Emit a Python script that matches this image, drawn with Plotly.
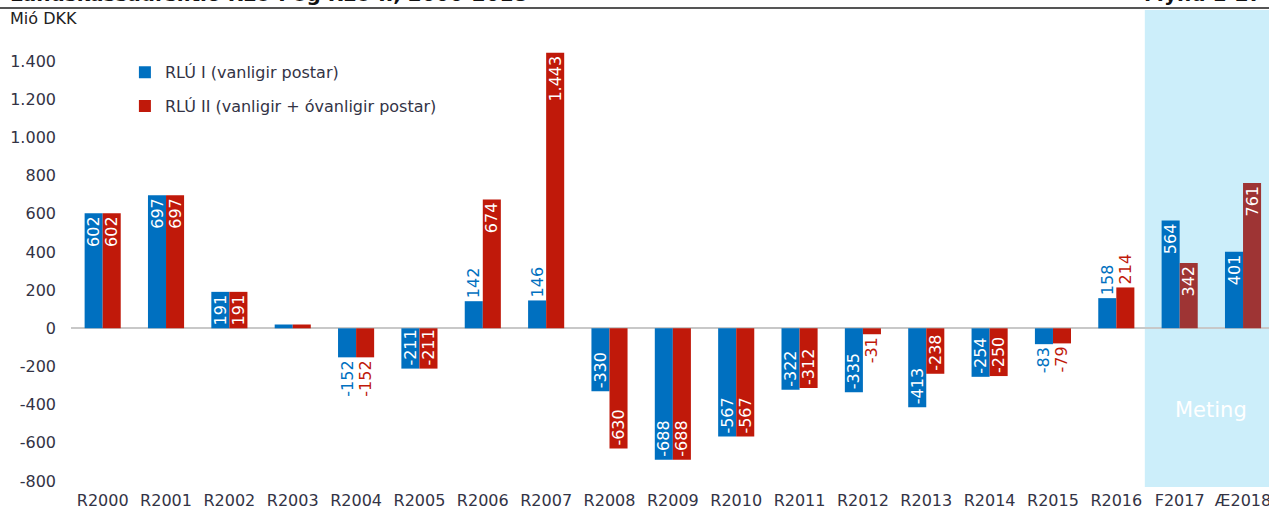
import plotly.graph_objects as go

categories = ["R2000", "R2001", "R2002", "R2003", "R2004", "R2005", "R2006", "R2007", "R2008",
              "R2009", "R2010", "R2011", "R2012", "R2013", "R2014", "R2015", "R2016", "F2017", "Æ2018"]
rlu1 = [602, 697, 191, 20, -152, -211, 142, 146, -330, -688, -567, -322, -335, -413, -254, -83, 158, 564, 401]
rlu2 = [602, 697, 191, 20, -152, -211, 674, 1443, -630, -688, -567, -312, -31, -238, -250, -79, 214, 342, 761]
show_label = [True, True, True, False] + [True] * 15
rlu1_pos = ["inside", "inside", "inside", "none", "outside", "inside", "outside", "outside", "inside",
            "inside", "inside", "inside", "inside", "inside", "inside", "outside", "outside", "inside", "inside"]
rlu2_pos = ["inside", "inside", "inside", "none", "outside", "inside", "inside", "inside", "inside",
            "inside", "inside", "inside", "outside", "inside", "inside", "outside", "outside", "inside", "inside"]
y_tick_vals = [-800, -600, -400, -200, 0, 200, 400, 600, 800, 1000, 1200, 1400]
y_tick_text = ["-800", "-600", "-400", "-200", "0", "200", "400", "600", "800", "1.000", "1.200", "1.400"]
n_forecast = 2

BLUE = "#0070C0"
RED = "#C0190A"
RED_F = "#9E3434"
TXT = "#333345"
FONT = "DejaVu Sans"


def fmt(v):
    s = f"{abs(v):,}".replace(",", ".")
    return ("-" if v < 0 else "") + s


def labels(vals):
    return [fmt(v) if ok else "" for v, ok in zip(vals, show_label)]


n = len(categories)
red_colors = [RED] * (n - n_forecast) + [RED_F] * n_forecast

fig = go.Figure()
fig.add_trace(go.Bar(
    x=categories, y=rlu1, name="RLÚ I (vanligir postar)", legendgroup="a",
    marker=dict(color=BLUE, line=dict(width=0)),
    text=labels(rlu1), textposition=rlu1_pos, textangle=-90,
    insidetextfont=dict(color="white", size=16, family=FONT),
    outsidetextfont=dict(color=BLUE, size=16, family=FONT),
    constraintext="none", cliponaxis=False, hoverinfo="skip",
))
fig.add_trace(go.Bar(
    x=categories, y=rlu2, name="RLÚ II (vanligir + óvanligir postar)", legendgroup="b",
    marker=dict(color=red_colors, line=dict(width=0)),
    text=labels(rlu2), textposition=rlu2_pos, textangle=-90,
    insidetextfont=dict(color="white", size=16, family=FONT),
    outsidetextfont=dict(color=RED, size=16, family=FONT),
    constraintext="none", cliponaxis=False, hoverinfo="skip",
))

fig.update_layout(
    width=1269, height=508,
    margin=dict(l=71, r=0, t=10, b=21),
    paper_bgcolor="white", plot_bgcolor="rgba(0,0,0,0)",
    barmode="group", bargap=0.43, bargroupgap=0,
    font=dict(family=FONT, size=16, color=TXT),
    showlegend=True,
    legend=dict(x=0.045, y=0.905, xanchor="left", yanchor="top",
                font=dict(size=16, color=TXT), tracegroupgap=10,
                bgcolor="rgba(0,0,0,0)", itemwidth=30),
    uniformtext=dict(minsize=16, mode="show"),
    xaxis=dict(range=[-0.5, 18.41], showgrid=False, showline=False, ticks="",
               tickfont=dict(size=16, color=TXT), zeroline=False, automargin=False,
               ticklabelstandoff=2),
    yaxis=dict(range=[-831, 1667], tickvals=y_tick_vals, ticktext=y_tick_text,
               showgrid=False, showline=False, ticks="", zeroline=True,
               zerolinecolor="#C8C8C8", zerolinewidth=1.5, automargin=False,
               tickfont=dict(size=16, color=TXT), ticklabelstandoff=14),
    shapes=[
        dict(type="rect", xref="x", yref="paper", x0=n - n_forecast - 0.55, x1=n + 1,
             y0=0, y1=1, fillcolor="#CCEEFA", line=dict(width=0), layer="below"),
        dict(type="line", xref="paper", yref="paper", x0=-0.06, x1=1.0,
             y0=1.004, y1=1.004, line=dict(color="#555555", width=2)),
    ],
    annotations=[
        dict(text="Mió DKK", xref="paper", yref="paper", x=-0.053, y=1.0, yshift=3, xanchor="left",
             yanchor="top", showarrow=False, font=dict(size=16, color="#222222")),
        dict(text="Meting", xref="x", yref="y", x=n - 1.5, y=-430, showarrow=False,
             font=dict(size=21, color="white")),
        dict(text="<b>Landskassaúrslitið RLÚ I og RLÚ II, 2000-2018</b>", xref="paper", yref="paper",
             x=-0.053, y=1.0, yshift=2, xanchor="left", yanchor="bottom", showarrow=False,
             font=dict(size=20, color="#111111")),
        dict(text="<b>Mynd 1-27</b>", xref="paper", yref="paper",
             x=0.997, y=1.0, yshift=2, xanchor="right", yanchor="bottom", showarrow=False,
             font=dict(size=20, color="#111111")),
    ],
)

fig.write_html("out.html", config={"displayModeBar": False},
               post_script="document.body.style.margin='0';document.body.style.overflow='hidden';")
